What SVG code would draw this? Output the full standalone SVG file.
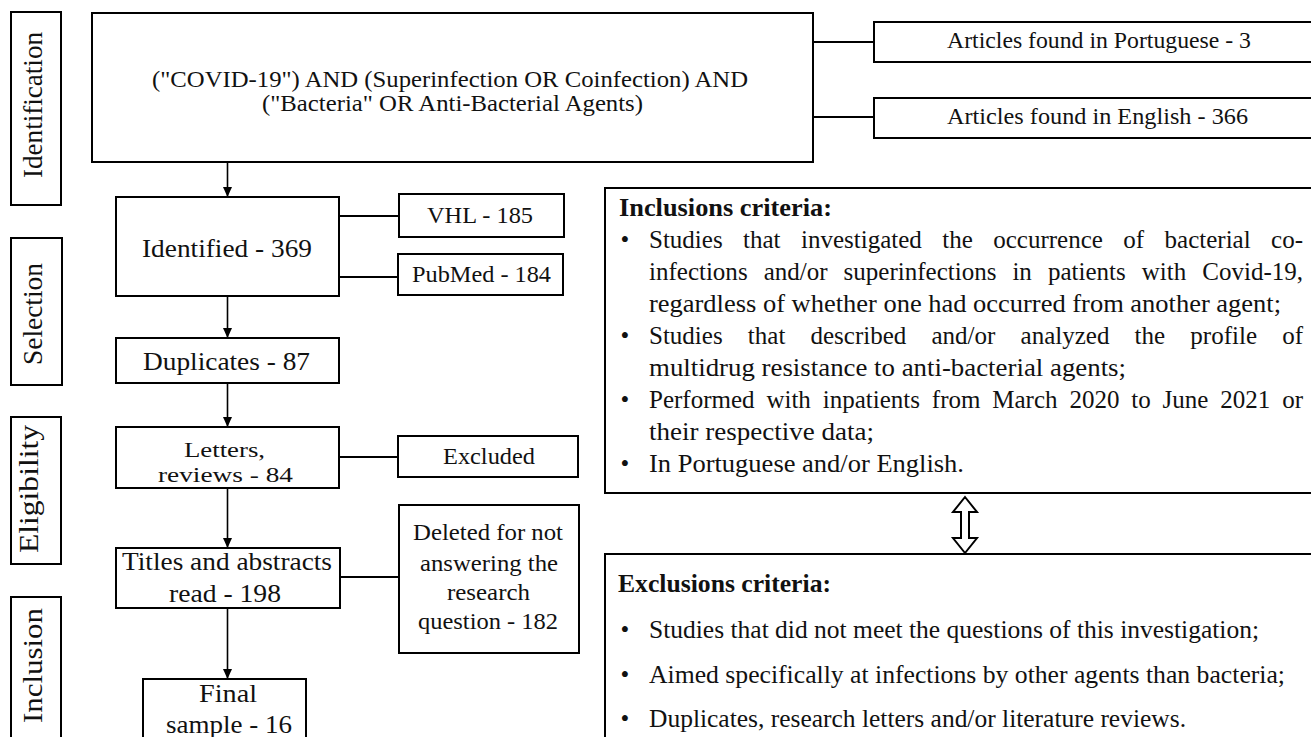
<svg xmlns="http://www.w3.org/2000/svg" width="1311" height="737" viewBox="0 0 1311 737">
<style>
  .box { fill: #fff; stroke: #000; stroke-width: 2; }
  .t { font-family: "Liberation Serif", "Times New Roman", Tinos, serif; fill: #111; }
  .lab { font-size: 27px; }
  .n24 { font-size: 24px; }
  .n26 { font-size: 26px; }
  .crit { font-size: 25px; }
  .bold { font-weight: bold; }
  .ln { stroke: #000; stroke-width: 2; fill: none; }
  .arr { stroke: #000; stroke-width: 1.6; fill: none; marker-end: url(#ah); }
</style>
<defs>
  <marker id="ah" markerUnits="userSpaceOnUse" markerWidth="10" markerHeight="9" refX="10" refY="4.5" orient="auto">
    <path d="M0,0 L10,4.5 L0,9 z" fill="#000"/>
  </marker>
</defs>
<rect width="1311" height="737" fill="#fff"/>

<g id="phase-identification">
  <rect class="box" x="11" y="12" width="50" height="193"/>
  <text class="t lab" transform="translate(42,178) rotate(-90)" x="0" y="0" textLength="146" lengthAdjust="spacingAndGlyphs">Identification</text>
</g>
<g id="phase-selection">
  <rect class="box" x="11" y="238" width="51" height="147"/>
  <text class="t lab" transform="translate(42,365) rotate(-90)" x="0" y="0" textLength="102" lengthAdjust="spacingAndGlyphs">Selection</text>
</g>
<g id="phase-eligibility">
  <rect class="box" x="11" y="417" width="50" height="147"/>
  <text class="t lab" transform="translate(38,553) rotate(-90)" x="0" y="0" textLength="128" lengthAdjust="spacingAndGlyphs">Eligibility</text>
</g>
<g id="phase-inclusion">
  <rect class="box" x="11" y="597" width="50" height="160"/>
  <text class="t lab" transform="translate(42,723) rotate(-90)" x="0" y="0" textLength="115" lengthAdjust="spacingAndGlyphs">Inclusion</text>
</g>

<g id="connectors">
  <line class="ln" x1="813" y1="42" x2="874" y2="42"/>
  <line class="ln" x1="813" y1="117" x2="874" y2="117"/>
  <line class="ln" x1="339" y1="216" x2="399" y2="216"/>
  <line class="ln" x1="339" y1="277" x2="398" y2="277"/>
  <line class="ln" x1="339" y1="457" x2="398" y2="457"/>
  <line class="ln" x1="340" y1="577" x2="399" y2="577"/>
  <line class="arr" x1="227.5" y1="162" x2="227.5" y2="197"/>
  <line class="arr" x1="227.5" y1="296" x2="227.5" y2="338"/>
  <line class="arr" x1="227.5" y1="383" x2="227.5" y2="427"/>
  <line class="arr" x1="227.5" y1="488" x2="227.5" y2="548"/>
  <line class="arr" x1="227.5" y1="608" x2="227.5" y2="679"/>
  <path id="double-arrow" d="M965,497 L977,512 L969,512 L969,538 L977,538 L965,553 L953,538 L961,538 L961,512 L953,512 Z" fill="#fff" stroke="#000" stroke-width="2" stroke-linejoin="miter"/>
</g>

<g id="search">
  <rect class="box" x="92" y="13" width="721" height="149"/>
  <text class="t" font-size="23" x="152" y="87" textLength="596" lengthAdjust="spacingAndGlyphs">("COVID-19") AND (Superinfection OR Coinfection) AND</text>
  <text class="t" font-size="23" x="262" y="111" textLength="381" lengthAdjust="spacingAndGlyphs">("Bacteria" OR Anti-Bacterial Agents)</text>
</g>
<g id="portuguese">
  <rect class="box" x="874" y="22" width="460" height="40"/>
  <text class="t" font-size="23" x="947" y="48" textLength="304" lengthAdjust="spacingAndGlyphs">Articles found in Portuguese - 3</text>
</g>
<g id="english">
  <rect class="box" x="874" y="98" width="460" height="40"/>
  <text class="t" font-size="23" x="947" y="124" textLength="301" lengthAdjust="spacingAndGlyphs">Articles found in English - 366</text>
</g>
<g id="identified">
  <rect class="box" x="116" y="197" width="223" height="99"/>
  <text class="t n26" x="142" y="257" textLength="170" lengthAdjust="spacingAndGlyphs">Identified - 369</text>
</g>
<g id="vhl">
  <rect class="box" x="399" y="194" width="165" height="43"/>
  <text class="t n24" x="427" y="223" textLength="106" lengthAdjust="spacingAndGlyphs">VHL - 185</text>
</g>
<g id="pubmed">
  <rect class="box" x="398" y="254" width="165" height="41"/>
  <text class="t n24" x="412" y="282" textLength="139" lengthAdjust="spacingAndGlyphs">PubMed - 184</text>
</g>
<g id="duplicates">
  <rect class="box" x="116" y="338" width="223" height="45"/>
  <text class="t n26" x="143" y="370" textLength="167" lengthAdjust="spacingAndGlyphs">Duplicates - 87</text>
</g>
<g id="letters">
  <rect class="box" x="116" y="427" width="223" height="61"/>
  <text class="t" font-size="22" x="184" y="457" textLength="81" lengthAdjust="spacingAndGlyphs">Letters,</text>
  <text class="t" font-size="22" x="158" y="482" textLength="135" lengthAdjust="spacingAndGlyphs">reviews - 84</text>
</g>
<g id="excluded">
  <rect class="box" x="398" y="436" width="180" height="41"/>
  <text class="t n24" x="443" y="464" textLength="92" lengthAdjust="spacingAndGlyphs">Excluded</text>
</g>
<g id="titles">
  <rect class="box" x="116" y="548" width="224" height="60"/>
  <text class="t n26" x="122" y="570" textLength="210" lengthAdjust="spacingAndGlyphs">Titles and abstracts</text>
  <text class="t n26" x="169" y="602" textLength="112" lengthAdjust="spacingAndGlyphs">read - 198</text>
</g>
<g id="deleted">
  <rect class="box" x="399" y="505" width="180" height="148"/>
  <text class="t n24" x="413" y="540" textLength="150" lengthAdjust="spacingAndGlyphs">Deleted for not</text>
  <text class="t n24" x="420" y="571" textLength="138" lengthAdjust="spacingAndGlyphs">answering the</text>
  <text class="t n24" x="447" y="600" textLength="83" lengthAdjust="spacingAndGlyphs">research</text>
  <text class="t n24" x="418" y="629" textLength="140" lengthAdjust="spacingAndGlyphs">question - 182</text>
</g>
<g id="final">
  <rect class="box" x="143" y="679" width="163" height="80"/>
  <text class="t n26" x="199" y="702" textLength="58" lengthAdjust="spacingAndGlyphs">Final</text>
  <text class="t n26" x="166" y="733" textLength="126" lengthAdjust="spacingAndGlyphs">sample - 16</text>
</g>

<g id="inclusion-criteria">
  <rect class="box" x="605" y="188" width="730" height="305"/>
  <text class="t crit bold" x="619" y="216" textLength="213" lengthAdjust="spacingAndGlyphs">Inclusions criteria:</text>
  <text class="t crit" x="625" y="248" text-anchor="middle">•</text>
  <text class="t crit" x="649" y="248" word-spacing="14.2" textLength="654" lengthAdjust="spacingAndGlyphs">Studies that investigated the occurrence of bacterial co-</text>
  <text class="t crit" x="649" y="280" word-spacing="9.8" textLength="654" lengthAdjust="spacingAndGlyphs">infections and/or superinfections in patients with Covid-19,</text>
  <text class="t crit" x="649" y="312" textLength="632" lengthAdjust="spacingAndGlyphs">regardless of whether one had occurred from another agent;</text>
  <text class="t crit" x="625" y="344" text-anchor="middle">•</text>
  <text class="t crit" x="649" y="344" word-spacing="18.9" textLength="654" lengthAdjust="spacingAndGlyphs">Studies that described and/or analyzed the profile of</text>
  <text class="t crit" x="649" y="376" textLength="477" lengthAdjust="spacingAndGlyphs">multidrug resistance to anti-bacterial agents;</text>
  <text class="t crit" x="625" y="408" text-anchor="middle">•</text>
  <text class="t crit" x="649" y="408" word-spacing="5.6" textLength="654" lengthAdjust="spacingAndGlyphs">Performed with inpatients from March 2020 to June 2021 or</text>
  <text class="t crit" x="649" y="440" textLength="225" lengthAdjust="spacingAndGlyphs">their respective data;</text>
  <text class="t crit" x="625" y="472" text-anchor="middle">•</text>
  <text class="t crit" x="649" y="472" textLength="315" lengthAdjust="spacingAndGlyphs">In Portuguese and/or English.</text>
</g>

<g id="exclusion-criteria">
  <rect class="box" x="605" y="554" width="730" height="200"/>
  <text class="t crit bold" x="618" y="592" textLength="213" lengthAdjust="spacingAndGlyphs">Exclusions criteria:</text>
  <text class="t crit" x="625" y="638" text-anchor="middle">•</text>
  <text class="t crit" x="649" y="638" textLength="610" lengthAdjust="spacingAndGlyphs">Studies that did not meet the questions of this investigation;</text>
  <text class="t crit" x="625" y="683" text-anchor="middle">•</text>
  <text class="t crit" x="649" y="683" textLength="636" lengthAdjust="spacingAndGlyphs">Aimed specifically at infections by other agents than bacteria;</text>
  <text class="t crit" x="625" y="727" text-anchor="middle">•</text>
  <text class="t crit" x="649" y="727" textLength="537" lengthAdjust="spacingAndGlyphs">Duplicates, research letters and/or literature reviews.</text>
</g>
</svg>
